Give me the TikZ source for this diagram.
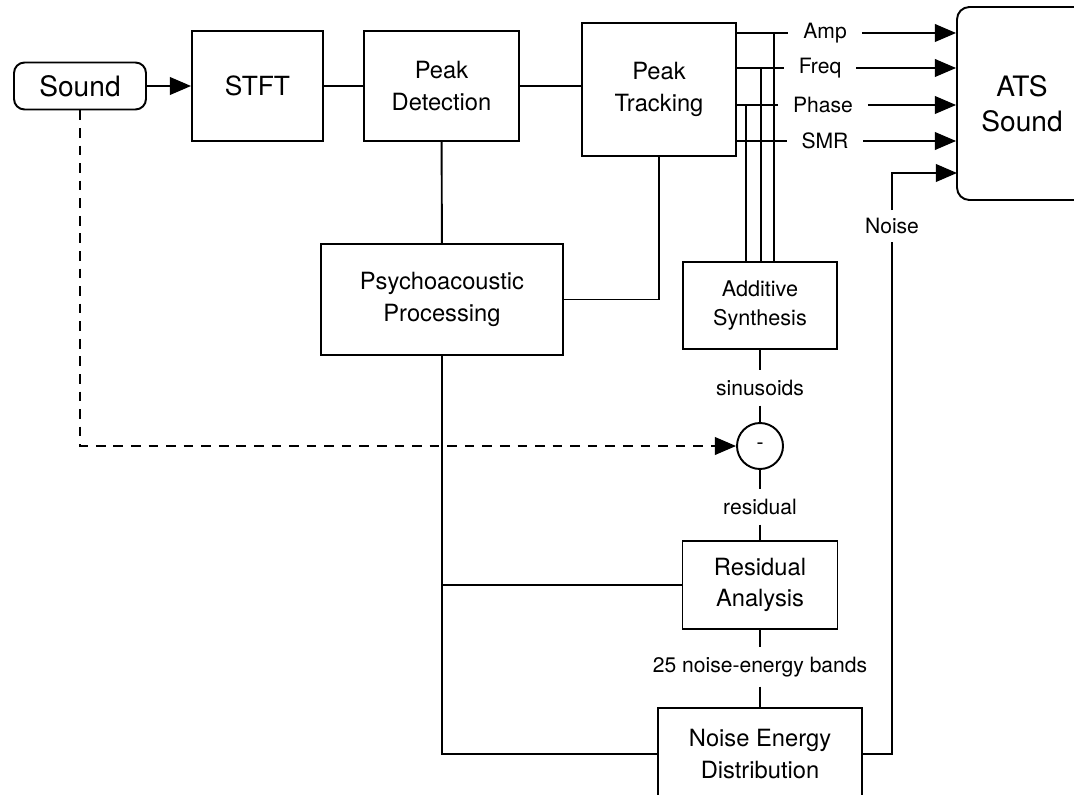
\documentclass[tikz,border=0pt]{standalone}
\usepackage{fontspec}
\setmainfont{TeX Gyre Heros}
\usetikzlibrary{arrows.meta}

\begin{document}
\begin{tikzpicture}[x=0.02cm,y=-0.02cm,line width=1.1pt,
	every node/.style={align=center},
	block/.style={draw,inner sep=0pt,font=\fontsize{13.5}{18}\selectfont},
	lbl/.style={inner xsep=2pt,inner ysep=5pt,font=\fontsize{12}{14}\selectfont},
	sig/.style={inner xsep=8pt,inner ysep=2pt,font=\fontsize{12}{14}\selectfont},
	tri/.style={-{Triangle[length=12pt,width=10pt]}}]
	
	\useasboundingbox (0,0) rectangle (1074,794);
	
	% analysis chain
	\node[block,rounded corners=6pt,minimum width=2.64cm,minimum height=0.94cm,font=\fontsize{16}{20}\selectfont] (sound) at (80,86) {Sound};
	\node[block,minimum width=2.62cm,minimum height=2.2cm,font=\fontsize{15}{19}\selectfont] (stft) at (257.5,86) {STFT};
	\node[block,minimum width=3.1cm,minimum height=2.2cm] (pdet) at (441.5,86) {Peak\\Detection};
	\node[block,minimum width=3.08cm,minimum height=2.66cm] (ptrk) at (659,89.5) {Peak\\Tracking};
	\node[block,rounded corners=7pt,minimum width=2.6cm,minimum height=3.86cm,font=\fontsize{16}{20}\selectfont] (ats) at (1022,103.5) {ATS\\Sound};
	\node[block,minimum width=4.84cm,minimum height=2.22cm] (psy) at (442,299.5) {Psychoacoustic\\Processing};
	\node[block,minimum width=3.08cm,minimum height=1.74cm,font=\fontsize{12.3}{16.5}\selectfont] (add) at (760,305.5) {Additive\\Synthesis};
	\node[block,circle,minimum size=0.92cm,font=\fontsize{12}{14}\selectfont] (minus) at (760,446) {-};
	\node[block,minimum width=3.1cm,minimum height=1.76cm] (res) at (760,585) {Residual\\Analysis};
	\node[block,minimum width=4.08cm,minimum height=1.84cm] (ned) at (760,754) {Noise Energy\\Distribution};
	
	% labels
	\node[sig] (amp) at (825,33) {Amp};
	\node[sig] (freq) at (820,68) {Freq};
	\node[sig] (phase) at (823,105) {Phase};
	\node[sig] (smr) at (825,141) {SMR};
	\node[lbl] (sinus) at (760,388) {sinusoids};
	\node[lbl] (resid) at (760,507) {residual};
	\node[lbl] (bands) at (760,667) {25 noise-energy bands};
	\node[lbl,inner ysep=4pt] (noise) at (892,226) {Noise};
	
	\coordinate (tapA) at (774,33);
	\coordinate (tapF) at (761,68);
	\coordinate (tapP) at (746,105);
	\coordinate (atsnoise) at (957,173);
	
	% connectors
	\draw[tri] (sound) -- (stft);
	\draw (stft) -- (pdet);
	\draw (pdet.east) -- (pdet.east -| ptrk.west);
	\draw (pdet) -- (psy);
	\draw (psy.east) -| (ptrk.south);
	
	\foreach \s in {amp,freq,phase,smr}{
		\draw (ptrk.east |- \s) -- (\s.west);
		\draw[tri] (\s.east) -- (\s.east -| ats.west);
	}
	\foreach \t in {tapA,tapF,tapP}
		\draw (\t) -- (\t |- add.north);
	
	\draw (add) -- (sinus);
	\draw (sinus) -- (minus);
	\draw (minus) -- (resid);
	\draw (resid) -- (res);
	\draw (res) -- (bands);
	\draw (bands) -- (ned);
	
	\draw[tri,dashed,dash pattern=on 5.5pt off 4.5pt] (sound.south) |- (minus.west);
	
	\draw (psy.south) |- (ned.west);
	\draw (psy.south |- res.west) -- (res.west);
	
	\draw (ned.east) -| (noise.south);
	\draw[tri] (noise.north) |- (atsnoise);
\end{tikzpicture}
\end{document}
